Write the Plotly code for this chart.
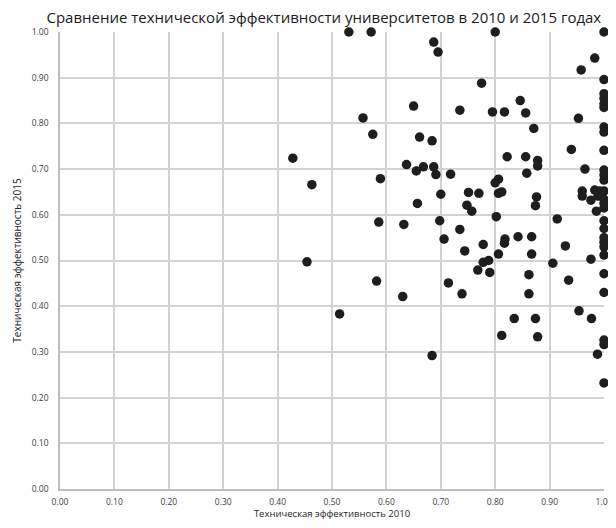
import plotly.graph_objects as go

# Техническая эффективность 2010 (x) и 2015 (y)
eff_2010 = [
    0.531, 0.572, 0.800, 1.000, 0.687, 0.695, 0.983, 0.958, 0.775, 1.000,
    1.000, 1.000, 1.000, 1.000, 0.650, 0.557, 0.575, 0.735, 0.795, 0.817,
    0.846, 0.856, 0.953, 1.000, 1.000, 0.871, 0.661, 0.684, 0.940, 1.000,
    0.822, 0.856, 0.878, 0.878, 0.428, 0.637, 0.655, 0.668, 0.687, 0.691,
    0.718, 0.806, 0.800, 0.858, 0.965, 1.000, 1.000, 1.000, 0.589, 0.463,
    0.700, 0.751, 0.770, 0.806, 0.812, 0.876, 0.874, 0.960, 0.960, 0.983,
    0.992, 1.000, 0.976, 0.989, 1.000, 1.000, 1.000, 0.657, 0.748, 0.757,
    0.986, 0.632, 0.698, 0.586, 0.802, 0.914, 1.000, 0.735, 1.000, 0.706,
    0.818, 0.817, 0.842, 0.867, 1.000, 1.000, 1.000, 1.000, 0.929, 0.778,
    0.744, 0.806, 0.867, 0.778, 0.788, 0.768, 0.790, 0.906, 0.976, 0.862,
    0.935, 0.714, 0.582, 0.630, 0.739, 0.862, 1.000, 1.000, 0.954, 0.977,
    0.835, 0.874, 0.812, 0.878, 1.000, 1.000, 0.988, 0.684, 1.000, 0.454,
    0.514,
]
eff_2015 = [
    1.000, 1.000, 1.000, 1.000, 0.978, 0.956, 0.943, 0.917, 0.888, 0.896,
    0.865, 0.855, 0.843, 0.835, 0.838, 0.812, 0.776, 0.829, 0.825, 0.825,
    0.850, 0.823, 0.811, 0.792, 0.781, 0.789, 0.770, 0.762, 0.743, 0.741,
    0.727, 0.727, 0.719, 0.707, 0.724, 0.710, 0.696, 0.705, 0.705, 0.688,
    0.689, 0.678, 0.670, 0.691, 0.700, 0.698, 0.687, 0.676, 0.679, 0.666,
    0.645, 0.649, 0.647, 0.647, 0.650, 0.639, 0.620, 0.652, 0.641, 0.654,
    0.652, 0.652, 0.632, 0.641, 0.634, 0.625, 0.615, 0.625, 0.621, 0.608,
    0.608, 0.579, 0.587, 0.584, 0.596, 0.591, 0.587, 0.568, 0.570, 0.547,
    0.547, 0.538, 0.552, 0.552, 0.550, 0.540, 0.530, 0.512, 0.532, 0.535,
    0.521, 0.514, 0.514, 0.496, 0.500, 0.479, 0.474, 0.494, 0.503, 0.469,
    0.457, 0.451, 0.455, 0.421, 0.427, 0.427, 0.471, 0.430, 0.390, 0.373,
    0.373, 0.373, 0.336, 0.333, 0.326, 0.316, 0.295, 0.292, 0.232, 0.497,
    0.383,
]

tick_vals = [i / 10 for i in range(11)]
tick_text = ["%.2f" % v for v in tick_vals]

title_text = "Сравнение технической эффективности университетов в 2010 и 2015 годах"
x_title = "Техническая эффективность 2010"
y_title = "Техническая эффективность 2015"

fig = go.Figure()
fig.add_trace(go.Scatter(
    x=eff_2010, y=eff_2015, mode="markers",
    marker=dict(size=9.5, color="#1e1e1e", line=dict(width=0)),
    cliponaxis=False, showlegend=False, hoverinfo="x+y",
))

font_family = "Open Sans, Noto Sans, DejaVu Sans, sans-serif"

# the page body adds an 8px margin; figure sized so that the page does not overflow
fig.update_layout(
    width=600, height=512,
    margin=dict(l=52, r=4, t=23.5, b=30.5, autoexpand=False),
    paper_bgcolor="white", plot_bgcolor="white",
    font=dict(family=font_family, color="#404040"),
    title=dict(text=title_text, x=0.485, xref="paper", xanchor="center",
               y=1 - 10 / 512, yanchor="middle", yref="container",
               font=dict(size=15, color="#1a1a1a", family=font_family)),
    xaxis=dict(
        range=[0, 1], tickvals=tick_vals, ticktext=tick_text,
        showgrid=True, gridcolor="#d3d3d3", gridwidth=1.5,
        showline=True, linecolor="#bdbdbd", linewidth=1.5,
        zeroline=False, ticks="", ticklabelstandoff=4,
        ticklabeloverflow="allow", automargin=False,
        tickfont=dict(size=8.5, color="#404040"),
        title=dict(text=x_title, font=dict(size=9.5, color="#262626"), standoff=1),
    ),
    yaxis=dict(
        range=[0, 1], tickvals=tick_vals, ticktext=tick_text,
        showgrid=True, gridcolor="#d3d3d3", gridwidth=1.5,
        showline=True, linecolor="#bdbdbd", linewidth=1.5,
        zeroline=False, ticks="", ticklabelstandoff=8, automargin=False,
        tickfont=dict(size=8.5, color="#404040"),
        title=dict(text=y_title, font=dict(size=10, color="#262626"), standoff=8),
    ),
)

fig.write_html("out.html")
